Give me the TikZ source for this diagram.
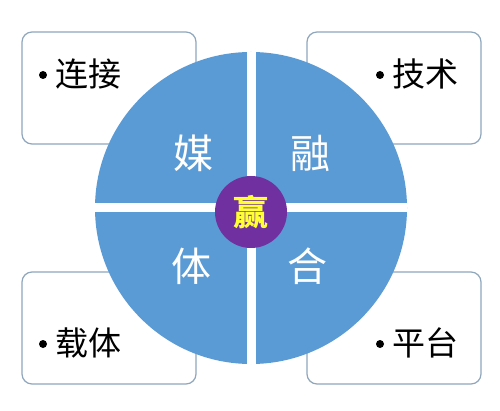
\documentclass[tikz,border=0pt]{standalone}
\usepackage{fontspec}
\newfontfamily\cjk{Noto Sans CJK SC}
\definecolor{qblue}{HTML}{5B9BD5}
\definecolor{cpurple}{HTML}{7030A0}
\definecolor{cyellow}{HTML}{FFFF33}
\definecolor{boxline}{HTML}{8FA6BC}
\tikzset{
  cornerbox/.style={draw=boxline, line width=1.2pt, rounded corners=10pt, fill=white,
    minimum width=174pt, minimum height=112pt, inner sep=0pt},
  boxtext/.style={font=\cjk\fontsize{33}{35}\selectfont, text=black, inner sep=0pt, anchor=west},
  bulletdot/.style={circle, fill=black, minimum size=8pt, inner sep=0pt},
  quadtext/.style={font=\cjk\fontsize{40}{42}\selectfont, text=white, inner sep=0pt},
  hub/.style={circle, fill=cpurple, minimum size=72pt, inner sep=0pt,
    font=\cjk\bfseries\fontsize{35}{37}\selectfont, text=cyellow}
}
\begin{document}
\begin{tikzpicture}[x=1pt,y=-1pt]
\useasboundingbox (0,0) rectangle (500,411);
\fill[white] (0,0) rectangle (500,411);
% corner boxes
\node[cornerbox] (tl) at (109,88) {};
\node[cornerbox] (tr) at (394,88) {};
\node[cornerbox] (bl) at (109,328) {};
\node[cornerbox] (br) at (394,328) {};
\node[bulletdot] (tlb) at (43,75) {};
\node[bulletdot] (trb) at (380,75) {};
\node[bulletdot] (blb) at (43,344) {};
\node[bulletdot] (brb) at (380,344) {};
\node[boxtext] (tlt) at (55,74) {连接};
\node[boxtext] (trt) at (392,74) {技术};
\node[boxtext] (blt) at (55,343) {载体};
\node[boxtext] (brt) at (392,343) {平台};
% big circle with quadrants
\coordinate (c) at (251,208);
\fill[qblue] (c) circle[radius=156];
\begin{scope}
  \clip (c) circle[radius=156];
  \fill[white] (95,203.5) rectangle (407,212.5);
  \fill[white] (246.5,52) rectangle (255.5,364);
\end{scope}
\node[quadtext] (q1) at (193,153) {媒};
\node[quadtext] (q2) at (310,153) {融};
\node[quadtext] (q3) at (191,266) {体};
\node[quadtext] (q4) at (307,266) {合};
\node[hub] (hubn) at (251,212) {赢};
\end{tikzpicture}
\end{document}
